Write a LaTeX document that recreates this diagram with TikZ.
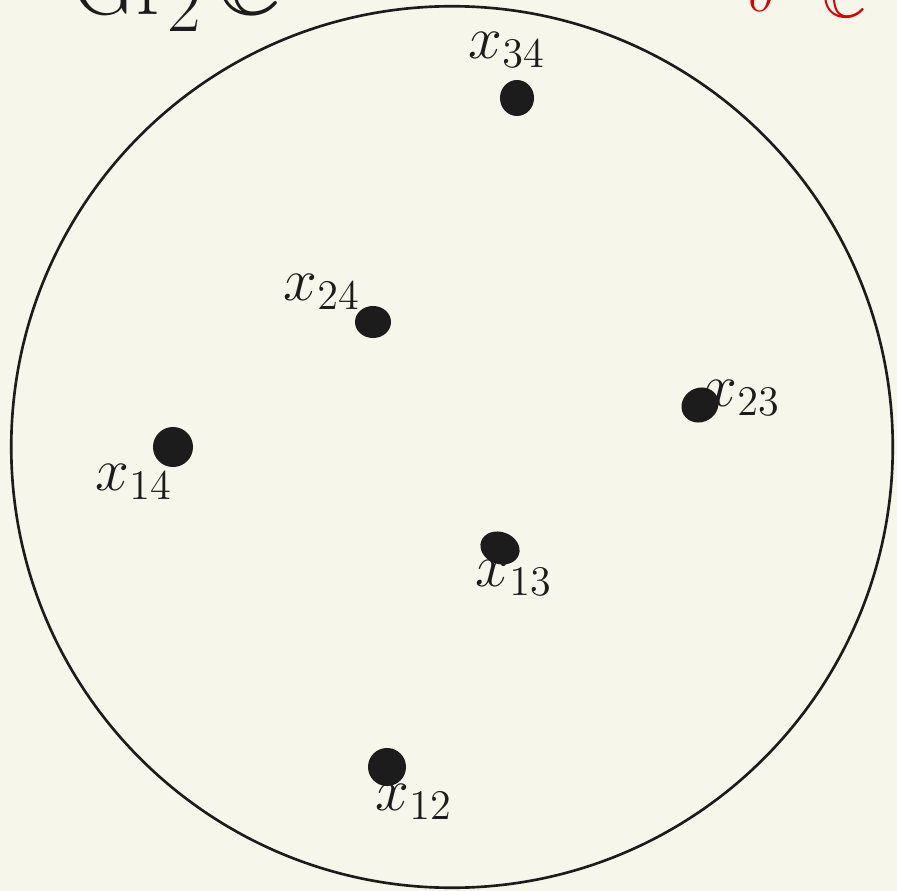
\documentclass[tikz,border=0pt]{standalone}
\usepackage{amsmath, amssymb}
\usetikzlibrary{positioning,shapes.geometric}
\definecolor{paper}{RGB}{247,246,234}
\definecolor{ink}{RGB}{28,28,28}
\definecolor{redink}{RGB}{214,0,0}
\tikzset{
  dot/.style={ellipse, draw=none, fill=ink, inner sep=0pt},
  ptlabel/.style={text=ink, font=\LARGE, inner sep=1pt},
  rednote/.style={text=redink, font=\LARGE, anchor=base west, inner sep=0pt},
  rim/.style={circle, draw=ink, line width=0.75pt, inner sep=0pt}
}

\begin{document}
\begin{tikzpicture}[x=0.01cm, y=-0.01cm]
  \fill[paper] (0,0) rectangle (897,891);
  \useasboundingbox (0,0) rectangle (897,891);
  % the disk
  \node[rim, minimum size=8.81cm] (disk) at (452,447) {};
  % points
  \node[dot, minimum width=0.34cm, minimum height=0.36cm] (p34) at (517,98) {};
  \node[dot, minimum width=0.36cm, minimum height=0.32cm] (p24) at (373,322) {};
  \node[dot, minimum width=0.38cm, minimum height=0.34cm, rotate=30] (p23) at (700,405) {};
  \node[dot, minimum width=0.40cm, minimum height=0.40cm] (p14) at (173,447) {};
  \node[dot, minimum width=0.40cm, minimum height=0.32cm, rotate=-20] (p13) at (500,548) {};
  \node[dot, minimum width=0.38cm, minimum height=0.38cm] (p12) at (387,767) {};
  % labels
  \node[ptlabel] (l34) at (507,50) {$x_{34}$};
  \node[ptlabel] (l24) at (322,292) {$x_{24}$};
  \node[ptlabel] (l23) at (742,398) {$x_{23}$};
  \node[ptlabel] (l14) at (134,482) {$x_{14}$};
  \node[ptlabel] (l13) at (514,578) {$x_{13}$};
  \node[ptlabel] (l12) at (414,802) {$x_{12}$};
  % headings cut off at the top
  \node[text=ink, font=\Huge, anchor=base west, inner sep=0pt] (title) at (72,15) {$\mathrm{Gr}_2\,\mathbb{C}$};
  \node[rednote] (note1) at (748,12) {$\delta$};
  \node[rednote] (note2) at (822,18) {$\mathbb{C}$};
\end{tikzpicture}
\end{document}
